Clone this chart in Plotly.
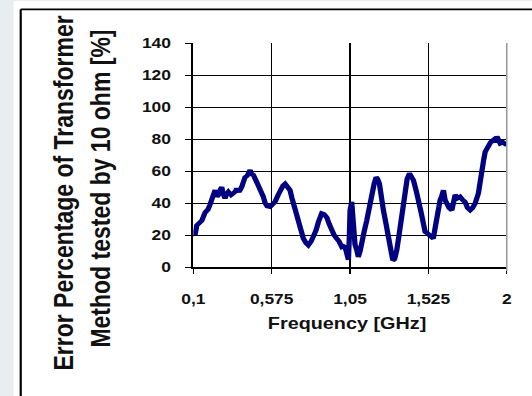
import plotly.graph_objects as go

# Measured error of the transformer method (10 ohm) across the frequency sweep
freq_ghz = [
    0.100, 0.110, 0.121, 0.135, 0.151, 0.171, 0.189, 0.201, 0.213, 0.221,
    0.232, 0.244, 0.252, 0.262, 0.272, 0.280, 0.292, 0.304, 0.312, 0.329,
    0.343, 0.353, 0.363, 0.377, 0.393, 0.401, 0.413, 0.426, 0.444, 0.453,
    0.464, 0.480, 0.494, 0.510, 0.524, 0.535, 0.547, 0.565, 0.580, 0.595,
    0.614, 0.626, 0.644, 0.656, 0.671, 0.686, 0.698, 0.706, 0.723, 0.737,
    0.753, 0.767, 0.783, 0.797, 0.814, 0.828, 0.844, 0.858, 0.868, 0.878,
    0.892, 0.909, 0.923, 0.939, 0.953, 0.969, 0.983, 1.000, 1.011, 1.020,
    1.030, 1.040, 1.046, 1.050, 1.060, 1.065, 1.070, 1.080, 1.091, 1.100,
    1.111, 1.121, 1.135, 1.151, 1.165, 1.182, 1.196, 1.208, 1.217, 1.228,
    1.238, 1.252, 1.268, 1.282, 1.296, 1.309, 1.320, 1.333, 1.347, 1.364,
    1.374, 1.384, 1.396, 1.410, 1.420, 1.434, 1.450, 1.464, 1.481, 1.495,
    1.505, 1.519, 1.535, 1.555, 1.565, 1.576, 1.587, 1.596, 1.605, 1.616,
    1.626, 1.636, 1.650, 1.667, 1.678, 1.687, 1.702, 1.717, 1.732, 1.747,
    1.762, 1.778, 1.793, 1.808, 1.828, 1.838, 1.849, 1.860, 1.869, 1.878,
    1.889, 1.902, 1.919, 1.929, 1.940, 1.950, 1.960, 1.975, 1.990, 2.000,
]
error_pct = [
    21, 20, 26, 27, 29, 34, 36, 39, 42, 46,
    48, 44, 45, 48, 50, 46, 43, 46, 47, 45,
    46, 47, 49, 47, 50, 53, 56, 57, 60.6, 58,
    57.5, 54, 51, 46, 44, 40, 38, 37.6, 39, 40.7,
    45, 48, 51, 52, 50, 48, 43, 39.7, 33, 27,
    22, 17.8, 15, 13.6, 16, 18.8, 23, 28, 31, 33.5,
    33, 31, 27, 23, 20, 17.8, 16, 12.5, 13, 12.5,
    7.3, 4.5, 20, 35.5, 40.7, 30, 18.8, 14, 10.5, 6.3,
    10, 16.7, 22, 29, 37, 47, 52, 56, 55, 52,
    44, 35.5, 27, 18.8, 10, 4.2, 5, 10.5, 20, 32.4,
    42, 50, 55, 58.5, 57, 54.3, 48, 43, 34, 27,
    22, 21, 19.9, 17.8, 24, 31, 37, 41.8, 44, 48,
    42, 39.7, 37, 35.5, 41, 45, 43, 43.9, 42, 40.7,
    37, 35.5, 37, 39.7, 46, 54, 60.6, 67, 72, 74,
    76.3, 78, 79.4, 78, 81.5, 79, 77.3, 78, 76.3, 76.3,
]

x_tick_vals = [0.1, 0.575, 1.05, 1.525, 2]
x_tick_text = ["0,1", "0,575", "1,05", "1,525", "2"]
y_tick_vals = [0, 20, 40, 60, 80, 100, 120, 140]

y_title_lines = ["Error Percentage of Transformer", "Method tested by 10 ohm [%]"]
x_title = "Frequency [GHz]"

# The page is drawn narrow and widened with a horizontal CSS scale
PAGE_W, PAGE_H = 532, 396
W = 443
SX = PAGE_W / W

# plot area edges in page pixels
PL, PR, PT, PB = 193.3, 506.7, 43.3, 266.7
ml = PL / SX
mr = W - PR / SX
mt = PT
mb = PAGE_H - PB
plot_w = (PR - PL) / SX
plot_h = PB - PT


def px(x_page):
    return (x_page / SX - ml) / plot_w


def py(y_page):
    return (PB - y_page) / plot_h


FONT = "Liberation Sans, Arial, sans-serif"
INK = "#111111"
BACKDROP = "#e8edf0"

fig = go.Figure(
    go.Scatter(
        x=freq_ghz,
        y=error_pct,
        mode="lines",
        line=dict(color="#000080", width=4.4),
        hoverinfo="skip",
    )
)

shapes = [
    # light backdrop strips outside the white sheet
    dict(type="rect", xref="paper", yref="paper",
         x0=px(-10), x1=px(13.5), y0=py(410), y1=py(-10),
         fillcolor=BACKDROP, line=dict(width=0), layer="above"),
    dict(type="rect", xref="paper", yref="paper",
         x0=px(-10), x1=px(545), y0=py(1.5), y1=py(-10),
         fillcolor=BACKDROP, line=dict(width=0), layer="above"),
    # chart frame (left and top edges)
    dict(type="line", xref="paper", yref="paper",
         x0=px(20.7), x1=px(20.7), y0=py(9.7), y1=py(410),
         line=dict(color="#000000", width=1.8), layer="above"),
    dict(type="line", xref="paper", yref="paper",
         x0=px(20.7), x1=px(545), y0=py(9.7), y1=py(9.7),
         line=dict(color="#000000", width=1.8), layer="above"),
    # grey right edge of the plot area
    dict(type="line", xref="paper", yref="paper",
         x0=1, x1=1, y0=py(PB + 4), y1=1,
         line=dict(color="#9a9a9a", width=1.3), layer="above"),
]

annotations = [
    dict(text=y_title_lines[0], textangle=-90, xref="paper", yref="paper",
         x=px(62.5), y=py(193.4), xanchor="center", yanchor="middle",
         showarrow=False, font=dict(family=FONT, size=23, color=INK, weight="bold")),
    dict(text=y_title_lines[1], textangle=-90, xref="paper", yref="paper",
         x=px(101), y=py(188.4), xanchor="center", yanchor="middle",
         showarrow=False, font=dict(family=FONT, size=23, color=INK, weight="bold")),
    dict(text=x_title, xref="paper", yref="paper",
         x=px(346.7), y=py(322.5), xanchor="center", yanchor="middle",
         showarrow=False, font=dict(family=FONT, size=16.5, color=INK, weight="bold")),
]

fig.update_layout(
    width=W,
    height=PAGE_H,
    margin=dict(l=ml, r=mr, t=mt, b=mb, pad=0),
    paper_bgcolor="#ffffff",
    plot_bgcolor="#ffffff",
    showlegend=False,
    shapes=shapes,
    annotations=annotations,
    xaxis=dict(
        range=[0.1, 2],
        tickmode="array",
        tickvals=x_tick_vals,
        ticktext=x_tick_text,
        showgrid=True,
        gridcolor="#000000",
        gridwidth=1.1,
        zeroline=False,
        showline=True,
        linecolor="#000000",
        linewidth=1.5,
        ticks="outside",
        ticklen=5,
        tickwidth=1.2,
        tickcolor="#000000",
        ticklabelstandoff=13,
        tickfont=dict(family=FONT, size=14.5, color=INK, weight="bold"),
        fixedrange=True,
    ),
    yaxis=dict(
        range=[0, 140],
        tickmode="array",
        tickvals=y_tick_vals,
        showgrid=True,
        gridcolor="#000000",
        gridwidth=1.1,
        zeroline=False,
        showline=True,
        linecolor="#000000",
        linewidth=1.5,
        ticks="outside",
        ticklen=5,
        tickwidth=1.2,
        tickcolor="#000000",
        ticklabelstandoff=9,
        tickfont=dict(family=FONT, size=14.5, color=INK, weight="bold"),
        fixedrange=True,
    ),
)

widen = (
    "var gd = document.getElementById('{plot_id}');"
    "document.body.style.margin = '0';"
    "gd.style.transformOrigin = '0 0';"
    "gd.style.transform = 'scaleX(" + f"{SX:.5f}" + ")';"
)

fig.write_html("out.html", config={"displayModeBar": False}, post_script=widen)
